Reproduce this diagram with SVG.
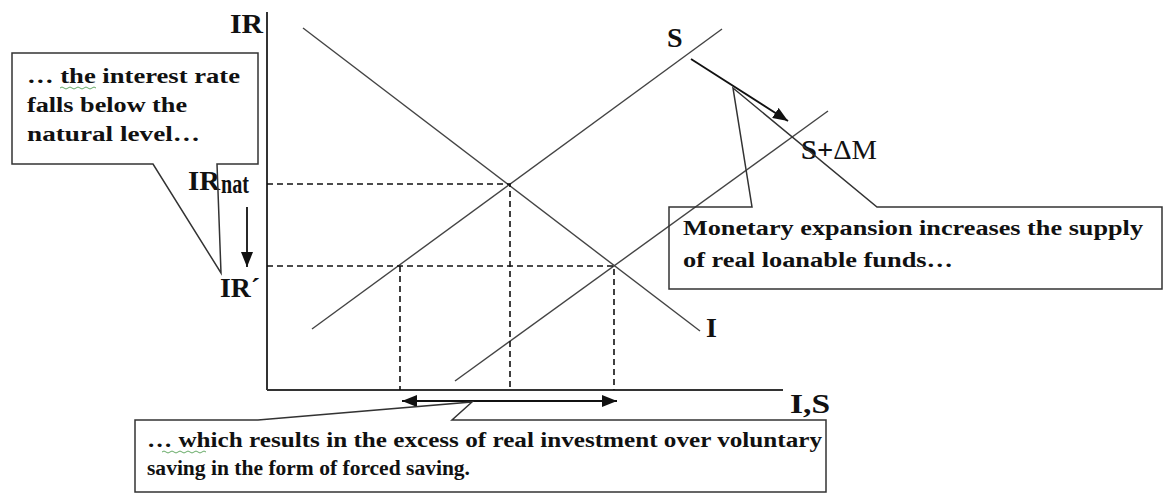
<svg xmlns="http://www.w3.org/2000/svg" width="1164" height="498" viewBox="0 0 1164 498">
<style>
.bg{fill:#fff}
.axis{stroke:#333;stroke-width:2;fill:none}
.curve{stroke:#444;stroke-width:1.4;fill:none}
.dash{stroke:#111;stroke-width:1.6;stroke-dasharray:6 4;fill:none}
.arr{stroke:#111;stroke-width:1.8;fill:none}
.call{stroke:#333;stroke-width:1.5;fill:none;stroke-linejoin:miter}
.ct{font-family:"Liberation Serif","Times New Roman",serif;font-weight:bold;font-size:20px;fill:#111}
.lbl{font-family:"Liberation Serif","Times New Roman",serif;font-weight:bold;font-size:28px;fill:#111}
.sq{stroke:#6a6;stroke-width:1;fill:none}
</style>
<defs>
<marker id="ah" viewBox="0 0 15 12" refX="15" refY="6" markerWidth="15" markerHeight="12" markerUnits="userSpaceOnUse" orient="auto-start-reverse">
<path d="M0,0 L15,6 L0,12 Z" fill="#111"/>
</marker>
</defs>
<rect class="bg" x="0" y="0" width="1164" height="498"/>

<g id="axes">
<line class="axis" x1="267" y1="12" x2="267" y2="390"/>
<line class="axis" x1="267" y1="390" x2="783" y2="390"/>
<text class="lbl" x="230" y="33" font-size="29" textLength="33" lengthAdjust="spacingAndGlyphs">IR</text>
<text class="lbl" x="790" y="413" textLength="40" lengthAdjust="spacingAndGlyphs">I,S</text>
</g>

<g id="curve-I">
<line class="curve" x1="303" y1="28" x2="700" y2="331"/>
<text class="lbl" x="706" y="337">I</text>
</g>

<g id="curve-S">
<line class="curve" x1="312" y1="329" x2="722" y2="29"/>
<text class="lbl" x="667" y="47" font-size="30">S</text>
</g>

<g id="curve-S-dM">
<line class="curve" x1="455" y1="381" x2="828" y2="111"/>
<text class="lbl" x="801" y="159" font-size="31" textLength="76" lengthAdjust="spacingAndGlyphs"><tspan>S+</tspan><tspan font-weight="normal">ΔM</tspan></text>
</g>

<g id="labels-IR">
<text class="lbl" x="188" y="190" font-size="26" textLength="32" lengthAdjust="spacingAndGlyphs">IR</text>
<text class="lbl" x="221" y="193" font-size="16" textLength="28" lengthAdjust="spacingAndGlyphs">nat</text>
<text class="lbl" x="220" y="297" textLength="40" lengthAdjust="spacingAndGlyphs">IR´</text>
</g>

<g id="connectors">
<polyline class="dash" points="267,184 510,184 510,390"/>
<polyline class="dash" points="267,266 614,266 614,390"/>
<line class="dash" x1="400" y1="266" x2="400" y2="390"/>
<line class="arr" x1="247" y1="207" x2="247" y2="267" marker-end="url(#ah)"/>
<line class="arr" x1="691" y1="59" x2="788" y2="121" marker-end="url(#ah)"/>
<line class="arr" x1="402" y1="401" x2="617" y2="401" marker-start="url(#ah)" marker-end="url(#ah)"/>
</g>

<g id="callout-left">
<polygon class="call" points="12,53 258,53 258,164 217,164 221,273 153,164 12,164"/>
<text class="ct" x="27" y="83" textLength="213" lengthAdjust="spacingAndGlyphs">… the interest rate</text>
<text class="ct" x="27" y="112" textLength="160" lengthAdjust="spacingAndGlyphs">falls below the</text>
<text class="ct" x="27" y="141" textLength="173" lengthAdjust="spacingAndGlyphs">natural level…</text>
<path class="sq" d="M60,88 q2,-2 4,0 t4,0 t4,0 t4,0 t4,0 t4,0 t4,0 t4,0 t4,0"/>
</g>

<g id="callout-right">
<polygon class="call" points="669,207 752,207 733,88 877,207 1162,207 1162,289 669,289"/>
<text class="ct" x="683" y="235" textLength="460" lengthAdjust="spacingAndGlyphs">Monetary expansion increases the supply</text>
<text class="ct" x="683" y="267" textLength="270" lengthAdjust="spacingAndGlyphs">of real loanable funds…</text>
</g>

<g id="callout-bottom">
<polygon class="call" points="135,420 258,420 472,402 452,420 826,420 826,492 135,492"/>
<text class="ct" x="147" y="447" textLength="675" lengthAdjust="spacingAndGlyphs">… which results in the excess of real investment over voluntary</text>
<text class="ct" x="147" y="475" textLength="323" lengthAdjust="spacingAndGlyphs">saving in the form of forced saving.</text>
<path class="sq" d="M162,452 q2,-2 4,0 t4,0 t4,0 t4,0 t4,0 t4,0 t4,0 t4,0 t4,0 t4,0 t4,0"/>
</g>
</svg>
